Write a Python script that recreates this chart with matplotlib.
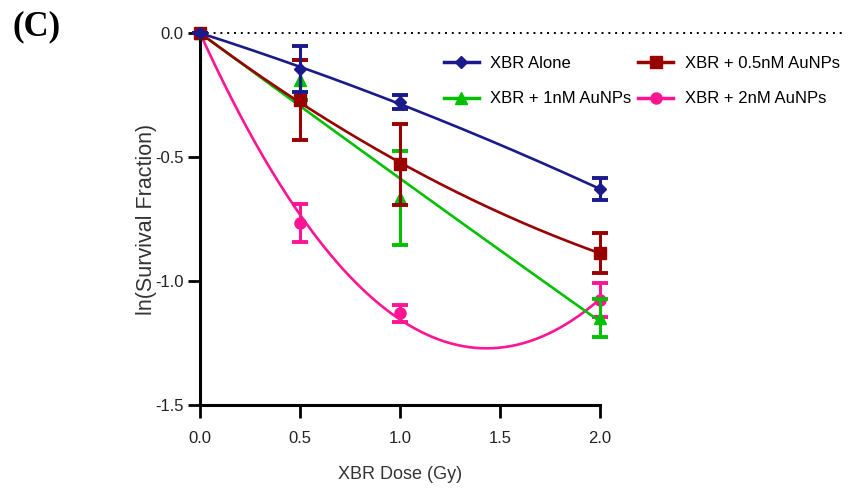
import numpy as np
import matplotlib.pyplot as plt
from matplotlib.lines import Line2D

plt.rcParams['font.family'] = ['Liberation Sans', 'DejaVu Sans']

dose = np.array([0.0, 0.5, 1.0, 2.0])

alone = np.array([0.0, -0.145, -0.28, -0.63])
alone_err = np.array([0.0, 0.093, 0.028, 0.045])

au05 = np.array([0.0, -0.27, -0.53, -0.887])
au05_err = np.array([0.0, 0.16, 0.165, 0.08])

au1 = np.array([0.0, -0.19, -0.665, -1.15])
au1_err = np.array([0.0, 0.08, 0.19, 0.077])

au2 = np.array([0.0, -0.766, -1.13, -1.077])
au2_err = np.array([0.0, 0.076, 0.035, 0.07])

labels = ["XBR Alone", "XBR + 1nM AuNPs", "XBR + 0.5nM AuNPs", "XBR + 2nM AuNPs"]


def lq_fit(x, y):
    # ln SF = a*D + b*D^2, through the origin
    A = np.column_stack([x, x ** 2])
    coef, *_ = np.linalg.lstsq(A, y, rcond=None)
    xs = np.linspace(0, 2, 200)
    return xs, coef[0] * xs + coef[1] * xs ** 2


fig = plt.figure(figsize=(8.51, 4.91), dpi=100)
ax = fig.add_axes([200 / 851, 1 - 405 / 491, 400 / 851, 372 / 491])

series = [
    (au2, au2_err, "#ff1493", "o", 8, labels[3]),
    (au1, au1_err, "#00c000", "^", 8, labels[1]),
    (au05, au05_err, "#990000", "s", 8, labels[2]),
    (alone, alone_err, "#1a1a8a", "D", 6, labels[0]),
]

handles = {}
for z, (y, e, c, m, ms, lab) in enumerate(series):
    xs, ys = lq_fit(dose, y)
    ax.plot(xs, ys, color=c, lw=1.9, zorder=3 + z, clip_on=False)
    ax.errorbar(dose, y, yerr=e, fmt=m, color=c, ms=ms, elinewidth=2.2,
                capsize=6, capthick=2.8, zorder=3 + z, clip_on=False)
    handles[lab] = Line2D([], [], color=c, marker=m, ms=ms, lw=2.5)

# dotted zero line
ax.plot([0, 3.22], [0, 0], color="black", ls=(0, (1, 2.5)), lw=1.4,
        zorder=2, clip_on=False)

ax.set_xlim(0, 2)
ax.set_ylim(-1.5, 0)
ax.set_xticks([0.0, 0.5, 1.0, 1.5, 2.0])
ax.set_yticks([0.0, -0.5, -1.0, -1.5])
ax.set_xticklabels(["0.0", "0.5", "1.0", "1.5", "2.0"])
ax.set_yticklabels(["0.0", "-0.5", "-1.0", "-1.5"])
ax.tick_params(axis="both", direction="out", length=9, width=2,
               labelsize=12, colors="black", labelcolor="#222222")
ax.tick_params(axis="x", pad=10)
ax.tick_params(axis="y", pad=3)
for side in ["top", "right"]:
    ax.spines[side].set_visible(False)
for side in ["left", "bottom"]:
    ax.spines[side].set_linewidth(2.2)

ax.set_xlabel("XBR Dose (Gy)", fontsize=13, color="#333333", labelpad=14)
ax.set_ylabel("ln(Survival Fraction)", fontsize=15.5, color="#333333")
ax.yaxis.set_label_coords(-0.108, 0.5)

order = [labels[0], labels[1], labels[2], labels[3]]
fig.legend([handles[l] for l in order], order, ncol=2, frameon=False,
           loc="upper left", bbox_to_anchor=(432 / 851, 1 - 44 / 491),
           fontsize=12, handlelength=2.1, handletextpad=0.7,
           columnspacing=0.4, labelspacing=1.25, borderpad=0.2)

fig.text(12 / 851, 1 - 27 / 491, "(C)", fontsize=25, fontweight="bold",
         family="Liberation Serif", va="center", ha="left")

fig.savefig("out.png", dpi=100)
